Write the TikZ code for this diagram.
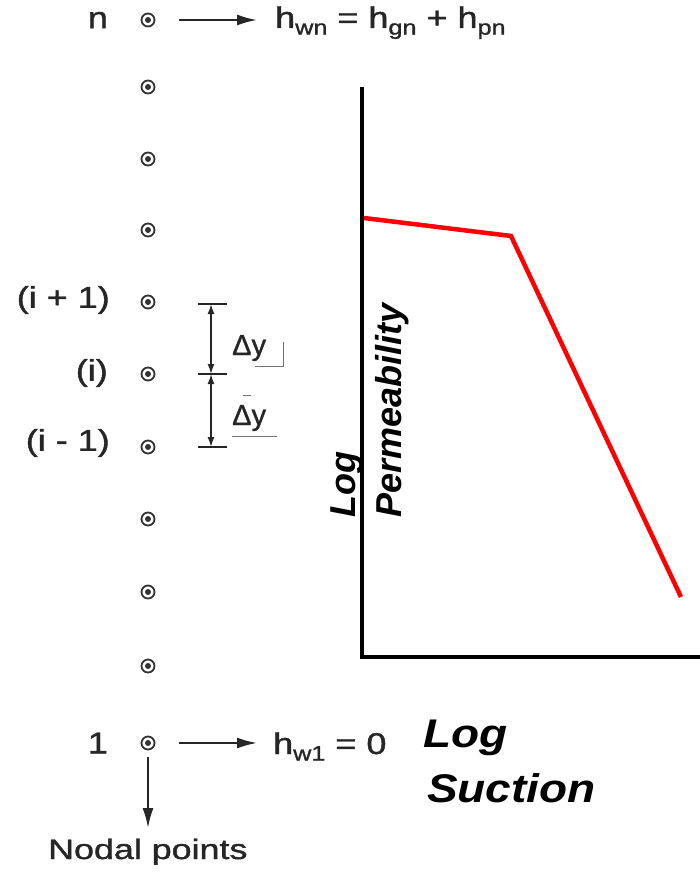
\documentclass[tikz,border=0pt]{standalone}
\usepackage{fontspec}
\setmainfont[FakeBold=1.2]{Liberation Sans}
\newfontfamily\plainsans{Liberation Sans}
\usetikzlibrary{arrows.meta}
\newcommand\hsub[1]{\raisebox{-0.22em}{\fontsize{21}{21}\selectfont #1}}
\newcommand\wid[1]{\scalebox{1.2}[1]{#1}}
\begin{document}
\begin{tikzpicture}[x=1pt,y=-1pt,
  nodal/.style={circle,draw=black!80,line width=1.8pt,minimum size=13pt,inner sep=0pt,
    path picture={\fill[black!80] (path picture bounding box.center) circle (3pt);}},
  lbl/.style={inner sep=0pt,text=black!85,font=\fontsize{30}{32}\selectfont},
  arr/.style={draw=black!85,-{Latex[length=20pt,width=11pt]},line width=2pt},
  dimarr/.style={draw=black!85,{Latex[length=10pt,width=7pt]}-{Latex[length=10pt,width=7pt]},line width=1.6pt},
  tick/.style={draw=black!85,line width=2pt},
  scratch/.style={draw=black!55,line width=0.9pt},
  axis/.style={line width=4.5pt,line join=miter},
  curve/.style={red,line width=4.5pt},
  ylab/.style={inner sep=0pt,font=\plainsans\fontsize{36}{36}\selectfont\bfseries\itshape},
  xlab/.style={inner sep=0pt,font=\plainsans\fontsize{40}{40}\selectfont\bfseries\itshape}]
\useasboundingbox (0,0) rectangle (700,872);
% nodal points
\foreach \nm/\yy in {dn/20,d10/87,d9/159,d8/230,dip/302,di/374,dimn/447,d4/519,d3/592,d2/666,d1/743}
  \node[nodal] (\nm) at (148,\yy) {};
% left labels
\node[lbl,anchor=east] (ln) at (108,20) {\wid{n}};
\node[lbl,anchor=east] (lip) at (110,300) {\wid{(i + 1)}};
\node[lbl,anchor=east] (li) at (108,373) {\wid{(i)}};
\node[lbl,anchor=east] (lim) at (110,443) {\wid{(i - 1)}};
\node[lbl,anchor=east] (l1) at (108,743) {\wid{1}};
% boundary conditions
\node[lbl,anchor=base west] (hwn) at (275,28) {\wid{h\hsub{wn} = h\hsub{gn} + h\hsub{pn}}};
\node[lbl,anchor=base west] (hw1) at (273,754) {\wid{h\hsub{w1} = 0}};
\draw[arr,shorten <=24pt,shorten >=18pt] (dn.east) -- (dn.east -| hwn.west);
\draw[arr,shorten <=24pt,shorten >=16pt] (d1.east) -- (d1.east -| hw1.west);
\node[lbl,anchor=base west,font=\fontsize{28}{30}\selectfont] (np) at (48,859) {\scalebox{1.28}[1]{Nodal points}};
\coordinate (npt) at (148,828);
\draw[arr,shorten <=7pt] (d1.south) -- (npt);
% delta y dimension
\coordinate (t1) at (211,304);
\coordinate (t2) at (211,374);
\coordinate (t3) at (211,447);
\foreach \t in {t1,t2,t3} \draw[tick] ([xshift=-13pt]\t) -- ([xshift=16pt]\t);
\draw[dimarr] (t1) -- (t2);
\draw[dimarr] (t2) -- (t3);
\node[lbl,anchor=base west,font=\fontsize{29}{30}\selectfont] (dy1) at (232,355) {Δy};
\node[lbl,anchor=base west,font=\fontsize{29}{30}\selectfont] (dy2) at (232,425) {Δy};
\draw[scratch] (255,366) -- (283,366) -- (283,342);
\draw[scratch] (243,395) -- (251,395);
\draw[scratch] (232,436) -- (277,436);
% graph
\coordinate (ytop) at (362,87);
\coordinate (O) at (362,657);
\coordinate (xend) at (700,657);
\draw[axis] (ytop) -- (O) -- (xend);
\coordinate (p1) at (364,218);
\coordinate (p2) at (511,236);
\coordinate (p3) at (681,597);
\draw[curve] (p1) -- (p2) -- (p3);
\node[ylab,rotate=90,anchor=base west] (logy) at (355,518) {Log};
\node[ylab,rotate=90,anchor=base west] (perm) at (401,518) {Permeability};
\node[xlab,anchor=base west] (logx) at (423,747) {\scalebox{1.15}[1]{Log}};
\node[xlab,anchor=base west] (suct) at (427,802) {\scalebox{1.15}[1]{Suction}};
\end{tikzpicture}
\end{document}
